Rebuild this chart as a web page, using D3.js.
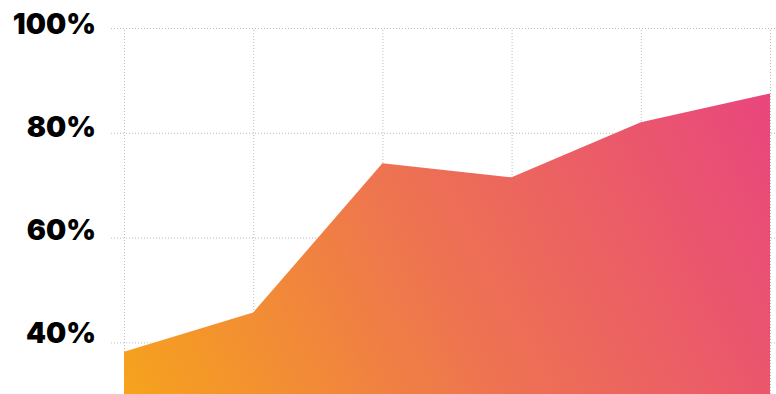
<!DOCTYPE html>
<html>
<head>
<meta charset="utf-8">
<script src="https://cdn.jsdelivr.net/npm/d3@7"></script>
<style>
  html, body { margin: 0; padding: 0; background: #fff; }
  svg { display: block; }
</style>
</head>
<body>
<svg id="chart" width="776" height="394"></svg>
<script>
// Periods along the x axis and the share reached in each one (percent)
const periods = ["P1", "P2", "P3", "P4", "P5", "P6"];
const shares = [38.2, 45.7, 74.2, 71.5, 82.0, 87.5];
const yTicks = [40, 60, 80, 100];

const width = 776, height = 394;
const margin = { top: 28, right: 6, bottom: 0, left: 124 };

const svg = d3.select("#chart");

const x = d3.scalePoint()
  .domain(periods)
  .range([margin.left, width - margin.right]);

const y = d3.scaleLinear()
  .domain([30, 100])
  .range([394.8, margin.top]);

// Label baselines sit a little under their gridlines, more so near the top
const labelY = d3.scaleLinear()
  .domain([40, 100])
  .range([343.3, 34.3]);

// Orange-to-pink fill
const defs = svg.append("defs");
const grad = defs.append("linearGradient")
  .attr("id", "fillGrad")
  .attr("gradientUnits", "userSpaceOnUse")
  .attr("x1", margin.left).attr("y1", height)
  .attr("x2", width - margin.right).attr("y2", 60);
grad.append("stop").attr("offset", "0%").attr("stop-color", "#f6a31c");
grad.append("stop").attr("offset", "45%").attr("stop-color", "#ee7450");
grad.append("stop").attr("offset", "100%").attr("stop-color", "#e8447f");

// Horizontal gridlines with left tick stubs
const yAxis = d3.axisLeft(y)
  .tickValues(yTicks)
  .tickSize(-(width - margin.left) - 13)
  .tickFormat("");

const gy = svg.append("g")
  .attr("transform", `translate(${margin.left - 13},0)`)
  .call(yAxis);
gy.select(".domain").remove();
gy.selectAll(".tick line")
  .attr("stroke", "#bdbdbd")
  .attr("stroke-dasharray", "1,2");

// Tick labels
svg.append("g")
  .selectAll("text")
  .data(yTicks)
  .join("text")
  .attr("x", 96)
  .attr("y", d => labelY(d))
  .attr("text-anchor", "end")
  .attr("fill", "#000")
  .style("font-family", "Inter, sans-serif")
  .style("font-weight", 900)
  .style("font-size", "28.5px")
  .text(d => d + "%");

// Vertical gridlines
const xAxis = d3.axisBottom(x)
  .tickSize(-(height - margin.top))
  .tickFormat("");
const gx = svg.append("g")
  .attr("transform", `translate(0,${height})`)
  .call(xAxis);
gx.select(".domain").remove();
gx.selectAll(".tick line")
  .attr("stroke", "#bdbdbd")
  .attr("stroke-dasharray", "1,2");

// Area
const area = d3.area()
  .x((d, i) => x(periods[i]))
  .y0(y(30))
  .y1(d => y(d));

svg.append("path")
  .datum(shares)
  .attr("d", area)
  .attr("fill", "url(#fillGrad)");
</script>
</body>
</html>
